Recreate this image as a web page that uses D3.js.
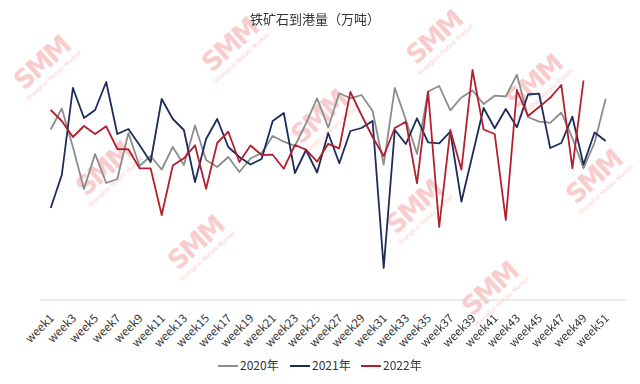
<!DOCTYPE html>
<html>
<head>
<meta charset="utf-8">
<script src="https://cdn.jsdelivr.net/npm/d3@7"></script>
<style>
  body { margin: 0; background: #fff; }
  svg { display: block; font-family: "Noto Sans CJK SC", "Noto Sans", sans-serif; }
</style>
</head>
<body>
<svg id="graph" width="640" height="384"></svg>
<script>
// Semaines
const weeks = d3.range(1, 53).map((i) => "week" + i);
const tickWeeks = weeks.filter((d, i) => i % 2 === 0);

// Séries (万吨)
const years = ["2020年", "2021年", "2022年"];
const colors = ["#8c8c8c", "#1c2b5a", "#b21f2d"];

const v2020 = [2705, 2915, 2530, 2110, 2460, 2170, 2210, 2670, 2340, 2440,
  2305, 2530, 2350, 2745, 2400, 2330, 2430, 2280, 2415, 2470,
  2640, 2583, 2540, 2767, 3017, 2725, 3067, 3017, 3050, 2890,
  2353, 3120, 2800, 2462, 3085, 3140, 2897, 3025, 3095, 2960,
  3043, 3035, 3253, 2830, 2783, 2772, 2875, 2620, 2317, 2575, 3012];

const v2021 = [1920, 2250, 3120, 2820, 2900, 3180, 2660, 2710, 2550, 2380,
  3010, 2810, 2700, 2180, 2610, 2810, 2530, 2430, 2355, 2410,
  2790, 2870, 2270, 2500, 2275, 2670, 2367, 2690, 2720, 2790,
  1320, 2700, 2560, 2817, 2577, 2567, 2683, 1983, 2450, 2920,
  2717, 2910, 2727, 3055, 3063, 2520, 2570, 2833, 2355, 2675, 2590];

const v2022 = [2900, 2790, 2630, 2740, 2660, 2737, 2510, 2507, 2317, 2317,
  1850, 2345, 2417, 2547, 2113, 2570, 2683, 2380, 2545, 2450,
  2453, 2313, 2550, 2503, 2383, 2562, 2517, 3080, 2850, 2630,
  2440, 2720, 2783, 2167, 3083, 1730, 2700, 2303, 3300, 2705,
  2660, 1800, 3100, 2840, 2930, 3022, 3150, 2317, 3195];

const series = [v2020, v2021, v2022];

// Filigranes
const marks = [[48, 70], [236, 52], [440, 44], [110, 176], [325, 124],
  [202, 250], [420, 214], [540, 88], [600, 184], [496, 296]];

const svg = d3.select("#graph");

const x = d3.scalePoint().domain(weeks).range([50.7, 616.8]);
const y = d3.scaleLinear().domain([1000, 3600]).range([300, 40]);

// watermark
const wm = svg.append("g").attr("opacity", 0.55);
marks.forEach(([cx, cy]) => {
  const g = wm.append("g").attr("transform", `translate(${cx},${cy}) rotate(-42)`);
  g.append("text")
    .attr("text-anchor", "middle")
    .attr("fill", "#f2a3a3")
    .style("font", "bold 26px 'DejaVu Sans', sans-serif")
    .style("letter-spacing", "-2px")
    .text("SMM");
  g.append("text")
    .attr("text-anchor", "middle")
    .attr("y", 10)
    .attr("fill", "#f2a3a3")
    .style("font", "6px 'DejaVu Sans', sans-serif")
    .text("Shanghai Metals Market");
});

// Titre
svg.append("text")
  .attr("x", 315)
  .attr("y", 24)
  .attr("text-anchor", "middle")
  .attr("fill", "#333")
  .style("font-size", "13px")
  .text("铁矿石到港量（万吨）");

// axe
svg.append("line")
  .attr("x1", 40).attr("x2", 627)
  .attr("y1", y(1000)).attr("y2", y(1000))
  .attr("stroke", "#d9d9d9");

svg.append("g")
  .selectAll("text")
  .data(tickWeeks)
  .join("text")
  .attr("transform", (d) => `translate(${x(d) + 4},${y(1000) + 19}) rotate(-45)`)
  .attr("text-anchor", "end")
  .attr("fill", "#333")
  .style("font-size", "11.5px")
  .text((d) => d);

// lignes
const line = d3.line()
  .x((d, i) => x(weeks[i]))
  .y((d) => y(d));

svg.append("g")
  .selectAll("path")
  .data(series)
  .join("path")
  .attr("fill", "none")
  .attr("stroke", (d, i) => colors[i])
  .attr("stroke-width", 1.8)
  .attr("stroke-linejoin", "round")
  .attr("d", line);

// légende
const legendX = [218, 290, 361];
const legend = svg.append("g")
  .selectAll("g")
  .data(years)
  .join("g")
  .attr("transform", (d, i) => `translate(${legendX[i]},366)`);

legend.append("line")
  .attr("x1", 0).attr("x2", 20)
  .attr("stroke", (d, i) => colors[i])
  .attr("stroke-width", 2);

legend.append("text")
  .attr("x", 22)
  .attr("dy", "0.35em")
  .attr("fill", "#333")
  .style("font-size", "12px")
  .text((d) => d);
</script>
</body>
</html>
